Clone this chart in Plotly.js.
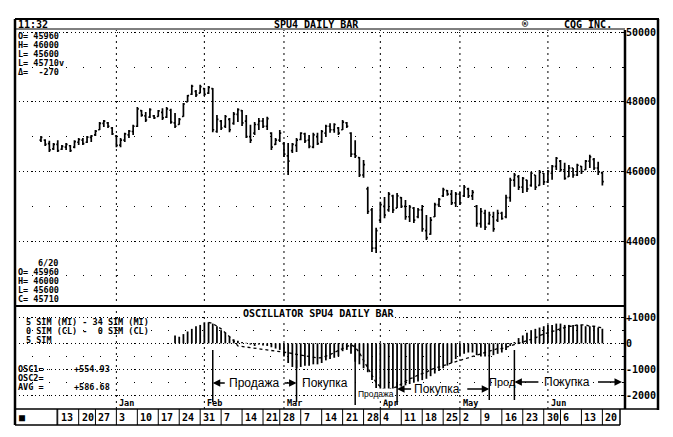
<!DOCTYPE html>
<html><head><meta charset="utf-8">
<script src="https://cdn.plot.ly/plotly-3.0.1.min.js"></script>
<style>html,body{margin:0;padding:0;background:#fff}#chart{width:673px;height:437px}</style>
</head><body><div id="chart"></div>
<script>
// ---- calendar ----
const startDate = '1993-12-07';
const endDate = '1994-06-20';
const holidays = ['1993-12-24','1994-02-21','1994-04-01','1994-04-27','1994-05-30'];

// ---- daily bars (SPU4) ----
const openP = [
 46900,46900,46800,46650,46780,46640,46700,46740,46700,46840,
 46900,46840,46980,47050,47200,47380,47400,47250,47020,46760,
 46900,47050,47150,47300,47750,47600,47560,47600,47580,47700,
 47560,47760,47400,47350,47580,48000,48220,48300,48250,48380,
 48250,48380,47150,47450,47300,47500,47380,47640,47750,47450,
 47000,47100,47350,47450,47300,47100,46780,46900,46800,46450,
 46600,46750,46920,47080,46900,46700,47000,46850,47100,47300,
 47200,47250,47200,47400,47100,46500,46400,45900,45500,44900,
 43800,44600,45000,44900,45300,44950,45250,45000,44700,44950,
 44700,44900,44300,44200,44700,45050,45300,45450,45350,45100,
 45350,45300,45500,45300,45000,44500,44800,44500,44700,44600,
 44800,44700,45250,45750,45850,45550,45750,45600,45900,45600,
 45950,45700,45950,46150,46300,46050,45850,46100,45900,46150,
 46050,46300,46350,46100,45960];
const highP = [
 47020,46930,46880,46820,46900,46760,46820,46760,46900,46960,
 46960,47020,47050,47190,47420,47480,47420,47280,47050,46960,
 47110,47190,47340,47850,47770,47710,47820,47620,47770,47820,
 47850,47800,47680,47540,47970,48200,48490,48340,48490,48400,
 48460,48400,47620,47480,47620,47540,47710,47820,47770,47620,
 47340,47420,47540,47540,47570,47130,46960,47190,46850,46820,
 46820,46960,47130,47110,47050,47110,47110,47190,47340,47390,
 47390,47280,47480,47420,47130,46900,46420,46330,45560,44950,
 44380,45130,45270,45410,45330,45380,45270,45180,45040,44980,
 44950,45040,44750,44690,45100,45240,45530,45470,45470,45410,
 45410,45610,45530,45470,45040,44950,44900,44840,44840,44900,
 44840,45330,45820,45960,45900,45840,45760,45990,45900,46040,
 45960,46040,46190,46420,46330,46250,46190,46100,46220,46160,
 46330,46480,46390,46280,46000];
const lowP = [
 46850,46730,46560,46620,46560,46620,46620,46560,46670,46760,
 46760,46820,46850,47020,47190,47280,47250,47050,46700,46700,
 46850,46960,47050,47280,47570,47420,47540,47510,47570,47480,
 47540,47370,47250,47340,47570,48000,48200,48140,48250,48170,
 48230,47130,47110,47190,47250,47130,47340,47420,47310,46960,
 46820,47050,47190,47250,47190,46620,46760,46850,46420,45900,
 46530,46560,46900,46820,46670,46670,46760,46820,46990,47110,
 47110,47050,47190,47250,46420,46390,45840,45820,44780,43690,
 43660,44520,44660,44840,44810,44950,44950,44610,44550,44520,
 44660,44270,44030,44180,44690,44980,45270,45300,45040,44980,
 45040,45270,45240,45180,44410,44380,44320,44470,44270,44550,
 44610,44660,45130,45560,45470,45380,45410,45560,45470,45590,
 45610,45670,45760,46040,45990,45760,45840,45820,45870,45930,
 46040,46100,46040,45900,45600];
const closeP = [
 46980,46780,46620,46780,46600,46720,46780,46600,46860,46920,
 46800,46990,47020,47160,47380,47450,47300,47080,46750,46900,
 47080,47160,47300,47800,47620,47480,47780,47540,47740,47540,
 47800,47420,47300,47500,47940,48180,48450,48200,48440,48220,
 48420,47200,47500,47250,47580,47200,47650,47780,47400,47000,
 46900,47350,47450,47300,47520,46700,46900,47100,46500,46300,
 46780,46900,47100,46880,46720,47050,46800,47150,47300,47200,
 47350,47100,47420,47300,46500,46450,45900,46200,44850,43800,
 44300,45050,44750,45350,44900,45300,45000,44700,44980,44600,
 44900,44350,44100,44600,45050,45200,45480,45350,45100,45350,
 45100,45550,45300,45400,44500,44850,44400,44750,44350,44800,
 44650,45250,45750,45900,45550,45800,45500,45950,45550,45980,
 45700,46000,46150,46380,46050,45800,46100,45900,46180,46000,
 46300,46420,46100,45980,45710];

// ---- oscillator (histogram) and its average ----
const oscVals = Array(30).fill(null).concat([
 null,null,300,250,350,450,550,650,700,800,
 800,750,650,500,400,250,150,100,50,20,
 -50,-100,-50,-80,-100,-150,-200,-250,-500,-750,
 -900,-950,-900,-850,-850,-800,-800,-750,-650,-600,
 -550,-500,-300,-250,-400,-700,-800,-950,-1100,-1400,
 -1700,-1900,-2000,-1950,-1900,-1700,-1650,-1600,-1550,-1500,
 -1450,-1400,-1350,-1250,-1150,-1050,-950,-850,-750,-600,
 -500,-400,-350,-350,-450,-500,-500,-500,-450,-400,
 -350,-250,-100,50,200,300,400,500,550,600,
 650,700,700,750,750,700,700,700,700,700,
 650,650,650,600,555]);
const avgVals = Array(40).fill(null).concat([
 800,750,650,550,400,250,100,-100,-120,-140,
 -160,-180,-200,-220,-240,-260,-280,-300,-330,-360,
 -390,-420,-450,-480,-510,-540,-560,-550,-500,-430,
 -350,-270,-190,-110,-50,-150,-350,-650,-950,-1250,
 -1500,-1650,-1750,-1750,-1700,-1650,-1550,-1450,-1350,-1300,
 -1200,-1150,-1100,-1000,-950,-900,-850,-800,-750,-700,
 -650,-600,-550,-500,-450,-400,-350,-300,-250,-200,
 -200,-150,-100,-50,0,50,100,150,200,300,
 350,400,450,500,550,600,650,650,700,700,
 700,650,650,620,587]);

// ---- axis labels ----
const weekTicks = ['1993-12-13','1993-12-20','1993-12-27','1994-01-03','1994-01-10','1994-01-17','1994-01-24','1994-01-31',
 '1994-02-07','1994-02-14','1994-02-22','1994-02-28','1994-03-07','1994-03-14','1994-03-21','1994-03-28',
 '1994-04-04','1994-04-11','1994-04-18','1994-04-25','1994-05-02','1994-05-09','1994-05-16','1994-05-23',
 '1994-05-31','1994-06-06','1994-06-13','1994-06-20'];
const weekLabels = ['13','20','27','3','10','17','24','31','7','14','21','28','7','14','21','28','4','11','18','25','2','9','16','23','30','6','13','20'];
const monthStarts = ['1994-01-03','1994-02-01','1994-03-01','1994-04-04','1994-05-02','1994-06-01'];
const monthLabels = ['Jan','Feb','Mar','Apr','May','Jun'];
const priceTicks = [50000,48000,46000,44000];
const priceTickText = ['50000','48000','46000','44000'];
const oscTicks = [1000,0,-1000,-2000];
const oscTickText = ['+1000','0','-1000','-2000'];
const signalDates = ['1994-02-03','1994-03-04','1994-03-24','1994-04-08','1994-05-11','1994-05-19'];

function tradingDays(s, e, hol) {
  const out = []; const d = new Date(s + 'T00:00:00Z'); const end = new Date(e + 'T00:00:00Z');
  while (d <= end) {
    const wd = d.getUTCDay(); const iso = d.toISOString().slice(0, 10);
    if (wd !== 0 && wd !== 6 && hol.indexOf(iso) < 0) out.push(iso);
    d.setUTCDate(d.getUTCDate() + 1);
  }
  return out;
}
const dates = tradingDays(startDate, endDate, holidays);

// pixel -> paper helpers (plot area: x 15..625, y 30..409)
const PX = x => (x - 15) / 610;
const PY = y => (409 - y) / 379;
const mono = {family: 'DejaVu Sans Mono', size: 10, color: 'black', weight: 'bold'};
const monoS = {family: 'DejaVu Sans Mono', size: 8.5, color: 'black', weight: 'bold'};
const sans = s => ({family: 'Liberation Sans, Arial', size: s, color: 'black'});

const traces = [
  {type: 'ohlc', x: dates, open: openP, high: highP, low: lowP, close: closeP,
   xaxis: 'x', yaxis: 'y', tickwidth: 0.35, hoverinfo: 'skip',
   increasing: {line: {color: 'black', width: 1.7}}, decreasing: {line: {color: 'black', width: 1.7}}},
  {type: 'bar', x: dates, y: oscVals, xaxis: 'x2', yaxis: 'y2', width: 0.42,
   marker: {color: 'black', line: {width: 0}}, hoverinfo: 'skip'},
  {type: 'scatter', mode: 'lines', x: dates, y: avgVals, xaxis: 'x2', yaxis: 'y2',
   line: {color: 'black', width: 1.3, dash: 'dot'}, hoverinfo: 'skip'}
];

const shapes = [];
const L = (x0, y0, x1, y1, w, dash) => shapes.push({type: 'line', xref: 'paper', yref: 'paper',
  x0: PX(x0), y0: PY(y0), x1: PX(x1), y1: PY(y1), line: {color: 'black', width: w, dash: dash || 'solid'}});
L(15, 19, 659, 19, 2);      // header top
L(15, 29, 625, 29, 1);      // header underline
L(15, 19, 15, 425, 2.5);    // left border
L(625, 30, 625, 409, 2.5);  // plot right border
L(658, 19, 658, 410, 2.5);  // outer right border
L(15, 306, 625, 306, 2);    // panel separator
L(15, 409, 658, 409, 1.5);  // lower panel bottom
L(15, 425, 620, 425, 1.5);  // date row bottom
L(620, 409, 620, 425, 1.5);
L(57, 409, 57, 425, 1);
monthStarts.forEach(d => shapes.push({type: 'line', xref: 'x', yref: 'paper', x0: d, x1: d, y0: 0, y1: 1,
  line: {color: 'black', width: 1, dash: '2px,4px'}}));
weekTicks.forEach(d => shapes.push({type: 'line', xref: 'x2', yref: 'paper', x0: d, x1: d, y0: PY(409), y1: PY(425),
  line: {color: 'black', width: 1}}));
const sigY = [[350, 402], [360, 402], [345, 405], [382, 405], [355, 400], [350, 400]];
signalDates.forEach((d, i) => shapes.push({type: 'line', xref: 'x2', yref: 'paper', x0: d, x1: d,
  y0: PY(sigY[i][0]), y1: PY(sigY[i][1]), line: {color: 'black', width: 1.5}}));

const ann = [];
const T = (text, x, y, anchor, font, extra) => ann.push(Object.assign({text: text, xref: 'paper', yref: 'paper',
  x: PX(x), y: PY(y), xanchor: anchor || 'left', yanchor: 'middle', showarrow: false, font: font || mono,
  borderpad: 0}, extra || {}));
// header
T('11:32', 17, 24); T('SPU4 DAILY BAR', 316, 24, 'center'); T('®', 525, 24, 'center'); T('CQG INC.', 588, 24, 'center');
// top-left quote block
T('O= 45960', 17, 36, 'left', monoS); T('H= 46000', 17, 45, 'left', monoS); T('L= 45600', 17, 54, 'left', monoS);
T('L= 45710v', 17, 63, 'left', monoS); T('Δ=  -270', 17, 72, 'left', monoS);
// bottom-left quote block
T('6/20', 37, 263, 'left', monoS); T('O= 45960', 17, 272, 'left', monoS); T('H= 46000', 17, 281, 'left', monoS);
T('L= 45600', 17, 290, 'left', monoS); T('C= 45710', 17, 299, 'left', monoS);
// oscillator block
T('OSCILLATOR SPU4 DAILY BAR', 318, 313, 'center', mono, {bgcolor: 'white'});
T('5 SIM (MI) - 34 SIM (MI)', 25, 322, 'left', monoS); T('0 SIM (CL) -  0 SIM (CL)', 25, 331, 'left', monoS);
T('5 SIM', 25, 340, 'left', monoS);
T('OSC1=', 17, 369, 'left', monoS); T('+554.93', 73, 369, 'left', monoS); T('OSC2=', 17, 378, 'left', monoS);
T('AVG =', 17, 387, 'left', monoS); T('+586.68', 73, 387, 'left', monoS);
T('■', 18, 417);
// date row and months
weekTicks.forEach((d, i) => ann.push({text: weekLabels[i], xref: 'x2', yref: 'paper', x: d, y: PY(417.5),
  xanchor: 'left', yanchor: 'middle', xshift: 1, showarrow: false, font: mono}));
monthStarts.forEach((d, i) => ann.push({text: monthLabels[i], xref: 'x2', yref: 'paper', x: d, y: PY(403),
  xanchor: 'left', yanchor: 'middle', xshift: 1, showarrow: false, font: monoS}));
// Russian signals
T('Продажа', 254, 383, 'center', sans(12));
T('Покупка', 325, 383, 'center', sans(12));
T('Продажа', 376, 394, 'center', sans(8.5), {bgcolor: 'white'});
T('Покупка', 437, 389, 'center', sans(12));
T('Прод', 502, 382, 'center', sans(11));
T('Покупка', 567, 382, 'center', sans(12));
const arrow = (xref, x, y, ax) => ann.push({text: ' ', xref: xref, yref: 'paper', x: x, y: PY(y), ax: ax, ay: 0,
  showarrow: true, arrowhead: 2, arrowsize: 1, arrowwidth: 1.5, arrowcolor: 'black', standoff: 0, font: {size: 2}});
arrow('x2', signalDates[0], 383, 14);
arrow('x2', signalDates[1], 383, -14);
arrow('x2', signalDates[3], 389, 16);
arrow('x2', signalDates[4], 389, -24);
arrow('x2', signalDates[5], 382, 26);
arrow('paper', PX(622), 382, -26);

const gridDot = {showgrid: true, gridcolor: 'black', gridwidth: 1, griddash: '1px,3px'};
const layout = {
  width: 673, height: 437, margin: {l: 15, r: 48, t: 30, b: 28, pad: 0},
  paper_bgcolor: 'white', plot_bgcolor: 'white', showlegend: false, hovermode: false, dragmode: false,
  xaxis: {type: 'category', range: [-6.2, 139.4], anchor: 'y', showticklabels: false, ticks: '',
          showgrid: false, zeroline: false, showline: false, rangeslider: {visible: false}, fixedrange: true},
  xaxis2: {type: 'category', range: [-6.2, 139.4], anchor: 'y2', showticklabels: false, ticks: '',
           showgrid: false, zeroline: false, showline: false, fixedrange: true},
  yaxis: Object.assign({domain: [PY(306), 1], range: [42135, 50066], side: 'right', anchor: 'x',
          tickmode: 'array', tickvals: priceTicks, ticktext: priceTickText, ticks: 'inside', ticklen: 4,
          tickcolor: 'black', tickfont: mono, zeroline: false, showline: false, fixedrange: true,
          minor: {tickmode: 'linear', tick0: 0, dtick: 1000, ticks: 'inside', ticklen: 3, tickcolor: 'black',
                  showgrid: true, gridcolor: 'black', griddash: '1px,16px', gridwidth: 1}}, gridDot),
  yaxis2: Object.assign({domain: [0, PY(306)], range: [-2500, 1420], side: 'right', anchor: 'x2',
          tickmode: 'array', tickvals: oscTicks, ticktext: oscTickText, ticks: 'inside', ticklen: 4,
          tickcolor: 'black', tickfont: mono, zeroline: false, showline: false, fixedrange: true,
          minor: {tickmode: 'linear', tick0: 0, dtick: 500, ticks: 'inside', ticklen: 3, tickcolor: 'black',
                  showgrid: true, gridcolor: 'black', griddash: '1px,16px', gridwidth: 1}}, gridDot),
  shapes: shapes, annotations: ann
};
Plotly.newPlot('chart', traces, layout, {staticPlot: true, displayModeBar: false});
</script></body></html>
